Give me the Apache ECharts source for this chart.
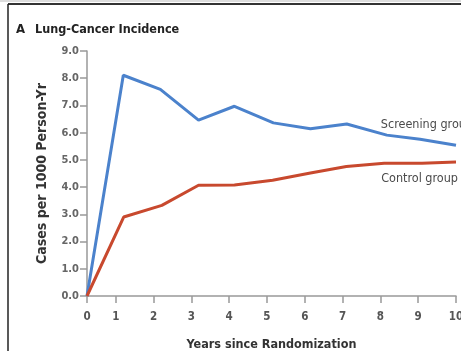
<!DOCTYPE html>
<html>
<head>
<meta charset="utf-8">
<script src="https://cdn.jsdelivr.net/npm/echarts@6/dist/echarts.min.js"></script>
<style>html,body{margin:0;padding:0;background:#fff;}#c{width:461px;height:351px;}</style>
</head>
<body>
<div id="c"></div>
<script>
// ---- data ----
const xTicks = [0, 1, 2, 3, 4, 5, 6, 7, 8, 9, 10];
const yTicks = [0, 1, 2, 3, 4, 5, 6, 7, 8, 9];
const screeningYears  = [0, 1.2, 2.18, 3.19, 4.14, 5.17, 6.15, 7.11, 8.17, 9.05, 10];
const screeningValues = [0, 8.11, 7.59, 6.46, 6.97, 6.36, 6.14, 6.32, 5.91, 5.76, 5.54];
const controlYears    = [0, 1.21, 2.22, 3.19, 4.14, 5.15, 6.15, 7.1, 8.1, 9.1, 10];
const controlValues   = [0, 2.9, 3.33, 4.07, 4.08, 4.25, 4.52, 4.76, 4.88, 4.88, 4.92];
const seriesNames = ['Screening group', 'Control group'];

// the reference axis places its "0" tick closer to "1" than the other steps
const X_ORIGIN = 0.24;
const mapX = v => Math.max(v, X_ORIGIN);

const FONT = "'DejaVu Sans Condensed', 'Liberation Sans', sans-serif";
const BLUE = '#4b82cc';
const RED = '#c8492e';

function build(years, vals, labelIdx, labelText, pos, offset) {
  return years.map((y, i) => {
    const item = { value: [mapX(y), vals[i]] };
    if (i === labelIdx) {
      item.label = {
        show: true, formatter: labelText, position: pos, align: 'left',
        offset: offset, color: '#4a4a4a', fontFamily: FONT, fontSize: 12.5
      };
    }
    return item;
  });
}

const chart = echarts.init(document.getElementById('c'), null, { renderer: 'canvas' });
chart.setOption({
  animation: false,
  backgroundColor: '#fff',
  title: {
    left: 11, top: 16,
    text: '{a|A}  {b|Lung-Cancer Incidence}',
    textStyle: {
      rich: {
        a: { fontFamily: FONT, fontWeight: 'bold', fontSize: 13, color: '#222' },
        b: { fontFamily: FONT, fontWeight: 'bold', fontSize: 12.5, color: '#222' }
      }
    }
  },
  graphic: [
    { type: 'line', shape: { x1: 0, y1: 1, x2: 461, y2: 1 }, style: { stroke: '#bbb', lineWidth: 1 } },
    { type: 'line', shape: { x1: 8, y1: 4, x2: 461, y2: 4 }, style: { stroke: '#333', lineWidth: 2 } },
    { type: 'line', shape: { x1: 8, y1: 4, x2: 8, y2: 351 }, style: { stroke: '#222', lineWidth: 1.5 } }
  ],
  grid: { left: 87, right: 5, top: 51, bottom: 55, containLabel: false, outerBoundsMode: 'none' },
  xAxis: {
    type: 'value', min: X_ORIGIN, max: 10,
    axisLine: { show: true, lineStyle: { color: '#999', width: 1.5 } },
    axisTick: { show: true, length: 7, lineStyle: { color: '#999', width: 1.5 }, customValues: xTicks.map(mapX) },
    axisLabel: {
      customValues: xTicks.map(mapX),
      formatter: v => String(xTicks[xTicks.map(mapX).findIndex(t => Math.abs(t - v) < 1e-6)]),
      color: '#555', fontFamily: FONT, fontSize: 11.5, fontWeight: 'bold', margin: 15
    },
    splitLine: { show: false },
    name: 'Years since Randomization', nameLocation: 'middle', nameGap: 42,
    nameTextStyle: { fontFamily: FONT, fontWeight: 'bold', fontSize: 12.5, color: '#333' }
  },
  yAxis: {
    type: 'value', min: yTicks[0], max: yTicks[yTicks.length - 1], interval: 1,
    axisLine: { show: true, lineStyle: { color: '#999', width: 1.5 } },
    axisTick: { show: true, length: 7, lineStyle: { color: '#999', width: 1.5 } },
    axisLabel: { formatter: v => v.toFixed(1), color: '#666', fontFamily: FONT, fontSize: 11, fontWeight: 'bold', margin: 8 },
    splitLine: { show: false },
    name: 'Cases per 1000 Person-Yr', nameLocation: 'middle', nameGap: 38,
    nameTextStyle: { fontFamily: FONT, fontWeight: 'bold', fontSize: 14, color: '#333' }
  },
  series: [
    {
      name: seriesNames[0], type: 'line', showSymbol: true, symbol: 'circle', symbolSize: 0,
      lineStyle: { color: BLUE, width: 3 }, itemStyle: { color: BLUE },
      data: build(screeningYears, screeningValues, 8, seriesNames[0], 'top', [-6, 1])
    },
    {
      name: seriesNames[1], type: 'line', showSymbol: true, symbol: 'circle', symbolSize: 0,
      lineStyle: { color: RED, width: 3 }, itemStyle: { color: RED },
      data: build(controlYears, controlValues, 8, seriesNames[1], 'bottom', [-3, 4])
    }
  ]
});
</script>
</body>
</html>
